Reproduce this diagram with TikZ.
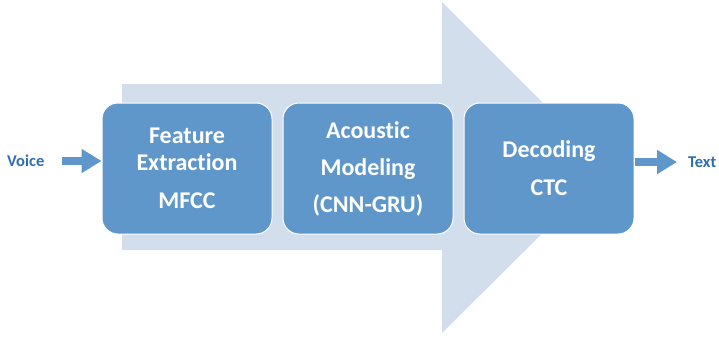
\documentclass[tikz,border=0pt]{standalone}
\usepackage{fontspec}
\setmainfont{Carlito}[Ligatures=NoCommon]
\usepackage{xcolor}
\usetikzlibrary{arrows.meta,positioning}
\definecolor{boxblue}{HTML}{5F97CA}
\definecolor{bgblue}{HTML}{D3DEEC}
\definecolor{labelblue}{HTML}{2F6EB5}

\begin{document}
\begin{tikzpicture}[x=1pt,y=-1pt,
  stage/.style={draw=white,line width=1pt,fill=boxblue,rounded corners=16pt,
    minimum width=170pt,minimum height=131pt,text=white,align=center,
    font=\fontsize{24}{27}\selectfont\bfseries},
  iolabel/.style={text=labelblue,inner sep=0pt,
    font=\fontsize{16.5}{18}\selectfont\bfseries},
  flow/.style={boxblue,line width=8pt,-{Triangle[length=20pt,width=23pt]}}]
  \useasboundingbox (0,0) rectangle (719,338);

  % большая стрелка на фоне
  \fill[bgblue] (122,84) -- (442,84) -- (442,2) -- (608,168)
    -- (442,333) -- (442,250) -- (122,250) -- cycle;

  % блоки
  \node[stage] (feat) at (187,168.5) {Feature\\Extraction\\[11pt]MFCC};
  \node[stage,right=10pt of feat] (acou) {Acoustic\\[10pt]Modeling\\[10pt](CNN-GRU)};
  \node[stage,right=10pt of acou] (deco) {Decoding\\[11pt]CTC};

  % вход и выход
  \node[iolabel,anchor=west] (voice) at (7,161) {Voice};
  \node[iolabel,anchor=west] (text) at (688,162) {Text};
  \draw[flow] ([xshift=17pt]voice.east) -- (voice.east -| feat.west);
  \draw[flow] (text.west -| deco.east) -- ([xshift=-11pt]text.west);
\end{tikzpicture}
\end{document}
